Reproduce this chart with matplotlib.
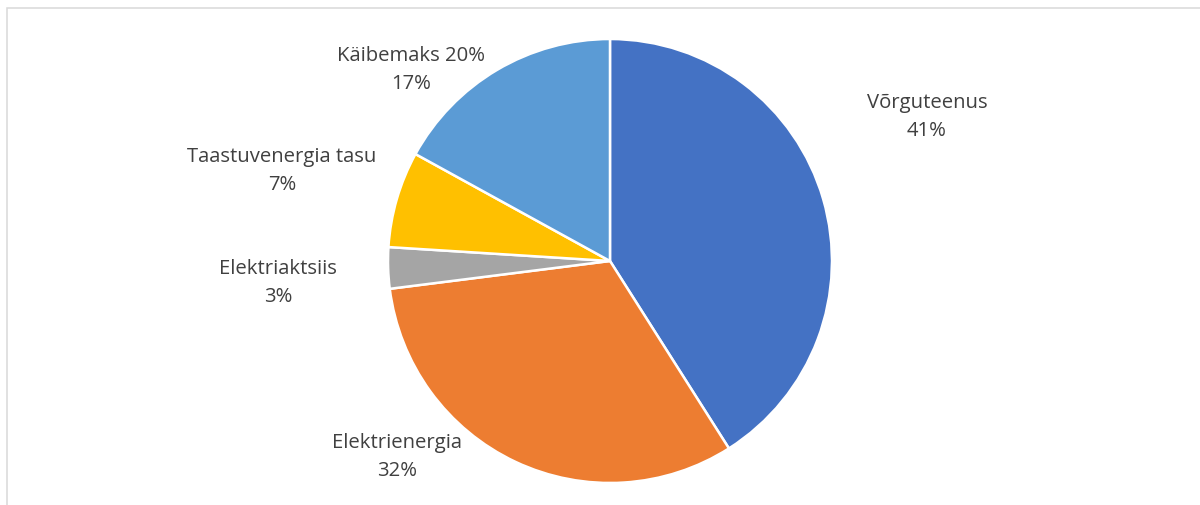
import matplotlib
matplotlib.use("Agg")
from matplotlib import pyplot as plt
from matplotlib.patches import Rectangle

# chart data, clockwise from 12 o'clock
labels = ["Võrguteenus", "Elektrienergia", "Elektriaktsiis", "Taastuvenergia tasu", "Käibemaks 20%"]
shares = [41, 32, 3, 7, 17]
colors = ["#4472C4", "#ED7D31", "#A5A5A5", "#FFC000", "#5B9BD5"]

# label centres, in pie radius units
label_pos = [(1.428, 0.653), (-0.959, -0.878), (-1.495, -0.095), (-1.477, 0.410), (-0.896, 0.865)]

plt.rcParams['font.family'] = ['Open Sans', 'DejaVu Sans']

fig = plt.figure(figsize=(12, 5.06), dpi=100)
ax = fig.add_axes([0, 0, 1, 1])
ax.pie(shares, colors=colors, startangle=90, counterclock=False, radius=1,
       wedgeprops=dict(edgecolor="white", linewidth=1.8))

total = sum(shares)
for lab, val, (x, y) in zip(labels, shares, label_pos):
    ax.text(x, y, "%s\n%d%%" % (lab, round(val / total * 100)), ha="center", va="center",
            fontsize=14.6, color="#404040", linespacing=1.55)

ax.set_xlim(-2.748, 2.658)
ax.set_ylim(-1.099, 1.180)
ax.set_aspect("equal")
ax.axis("off")

# chart area frame (partly cut off at right and bottom)
fig.patches.append(Rectangle((6.5 / 1200, -0.1), 1.2, 1 - 8.5 / 506 + 0.1, transform=fig.transFigure,
                             fill=False, edgecolor="#D9D9D9", linewidth=1.1))

fig.savefig("out.png", dpi=100)
